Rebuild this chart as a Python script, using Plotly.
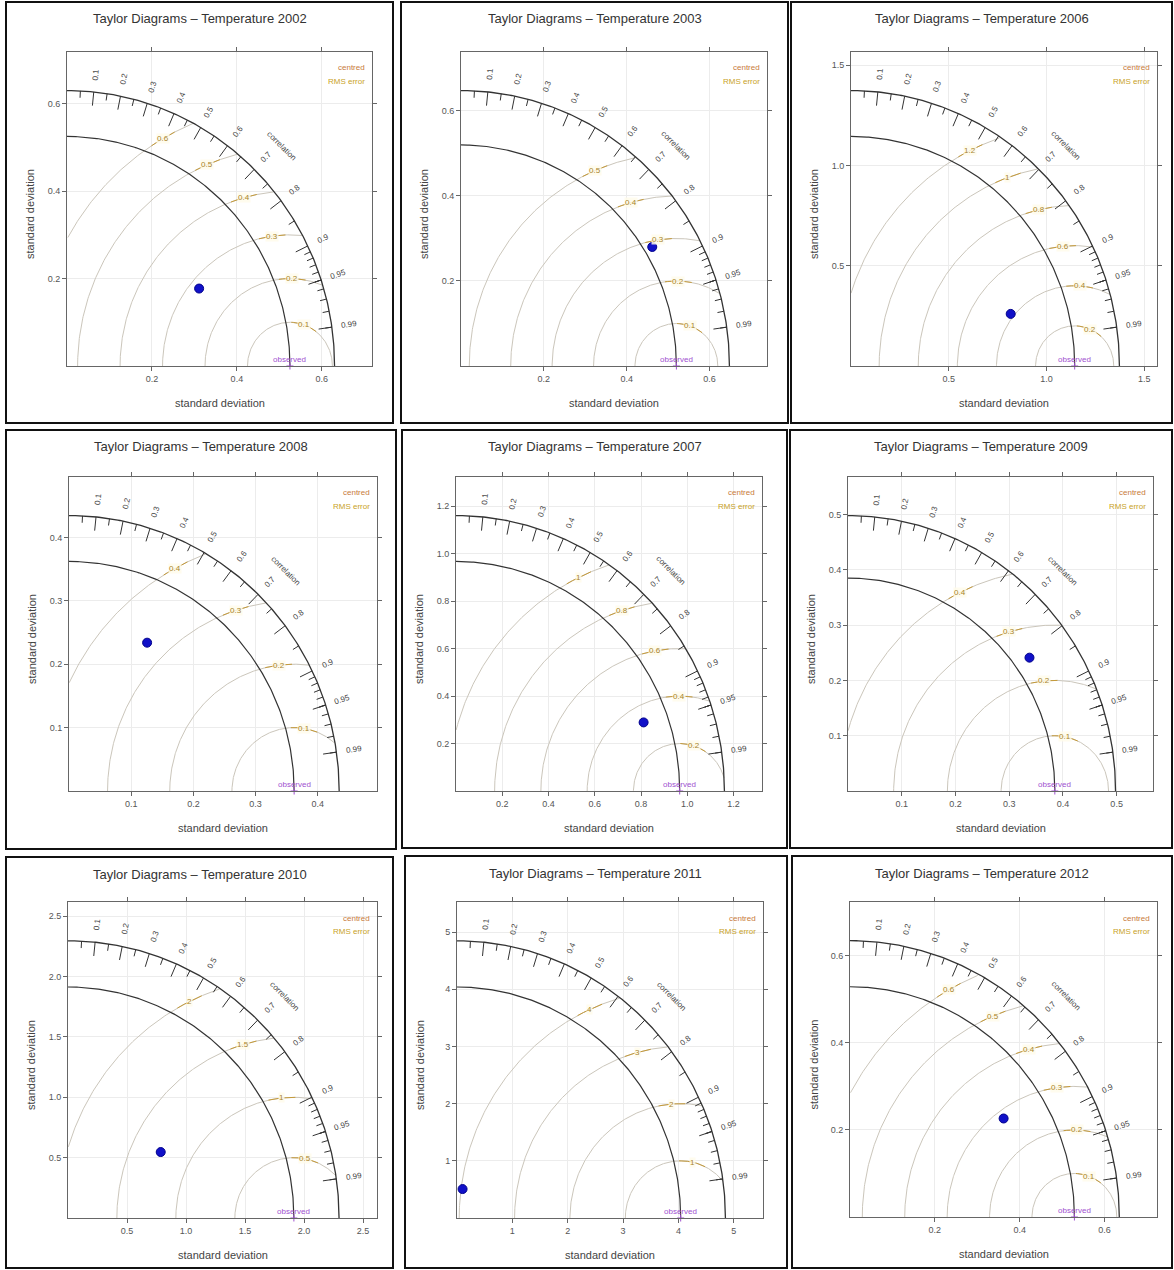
import numpy as np
import plotly.graph_objects as go

W, H = 1174, 1270

# ---------------- data ----------------
years = [2002, 2003, 2006, 2008, 2007, 2009, 2010, 2011, 2012]
obs_sd = [0.525, 0.520, 1.144, 0.362, 0.967, 0.385, 1.914, 4.04, 0.529]
model_sd = [0.358, 0.540, 0.857, 0.2655, 0.861, 0.415, 0.957, 0.516, 0.427]
model_cor = [0.869, 0.855, 0.953, 0.473, 0.942, 0.814, 0.821, 0.195, 0.848]
rms_step = [0.1, 0.1, 0.2, 0.1, 0.2, 0.1, 0.5, 1.0, 0.1]
tick_vals = [
    [0.2, 0.4, 0.6], [0.2, 0.4, 0.6], [0.5, 1.0, 1.5],
    [0.1, 0.2, 0.3, 0.4], [0.2, 0.4, 0.6, 0.8, 1.0, 1.2], [0.1, 0.2, 0.3, 0.4, 0.5],
    [0.5, 1.0, 1.5, 2.0, 2.5], [1, 2, 3, 4, 5], [0.2, 0.4, 0.6],
]
tick_text = [
    ["0.2", "0.4", "0.6"], ["0.2", "0.4", "0.6"], ["0.5", "1.0", "1.5"],
    ["0.1", "0.2", "0.3", "0.4"], ["0.2", "0.4", "0.6", "0.8", "1.0", "1.2"],
    ["0.1", "0.2", "0.3", "0.4", "0.5"],
    ["0.5", "1.0", "1.5", "2.0", "2.5"], ["1", "2", "3", "4", "5"], ["0.2", "0.4", "0.6"],
]
cor_labels = [0.1, 0.2, 0.3, 0.4, 0.5, 0.6, 0.7, 0.8, 0.9, 0.95, 0.99]

# ---------------- layout geometry (pixels) ----------------
frames = [  # left, right, top, bottom of plot frame
    (67, 372, 52, 366), (461, 767, 52, 366), (851, 1157, 52, 366),
    (69, 377, 477, 791), (456, 762, 477, 791), (848, 1153, 477, 791),
    (68, 377, 902, 1218), (457, 763, 902, 1218), (850, 1157, 902, 1217),
]
boxes = [
    (6, 2, 393, 423), (401, 2, 788, 423), (791, 2, 1172, 423),
    (6, 430, 396, 849), (402, 430, 787, 848), (790, 430, 1172, 848),
    (6, 857, 393, 1268), (405, 856, 787, 1268), (792, 856, 1172, 1268),
]

FONT = "Liberation Sans, Arial, sans-serif"
GOLD = "#c49a3a"
ARC_GREY = "#cbc6bb"

fig = go.Figure()
annotations = []
shapes = []

def px(x):
    return x / W

def py(y):
    return 1 - y / H

for i in range(9):
    sfx = "" if i == 0 else str(i + 1)
    xa, ya = "x" + sfx, "y" + sfx
    L, R, T, B = frames[i]
    ref = obs_sd[i]
    msd = model_sd[i]
    cor = model_cor[i]
    maxsd = 1.2 * max(ref, msd)
    rng = [0, 1.14 * maxsd]

    axis_common = dict(
        range=rng, showgrid=True, gridcolor="#ececec", gridwidth=1, zeroline=False,
        showline=True, linecolor="#666", linewidth=1, mirror="allticks",
        ticks="outside", ticklen=4, tickcolor="#666", tickwidth=1,
        tickfont=dict(family=FONT, size=9, color="#555"),
        tickvals=tick_vals[i], ticktext=tick_text[i], fixedrange=True,
    )
    fig.layout["xaxis" + sfx] = dict(domain=[px(L), px(R)], anchor=ya, **axis_common)
    fig.layout["yaxis" + sfx] = dict(domain=[py(B), py(T)], anchor=xa, **axis_common)

    # RMS arcs centred on the reference point
    nk = int(np.floor(1.15 * ref / rms_step[i] + 1e-9))
    lab_R = 1.08 * ref
    for k in range(1, nk + 1):
        r = k * rms_step[i]
        ph = np.linspace(0, np.pi, 400)
        ax_ = ref + r * np.cos(ph)
        ay_ = r * np.sin(ph)
        ok = (ax_ >= 0) & (np.hypot(ax_, ay_) <= maxsd)
        xs = np.where(ok, ax_, np.nan)
        ys = np.where(ok, ay_, np.nan)
        fig.add_trace(go.Scatter(x=xs, y=ys, xaxis=xa, yaxis=ya, mode="lines",
                                 line=dict(color=ARC_GREY, width=1), hoverinfo="skip",
                                 showlegend=False, connectgaps=False))
        lx = (lab_R ** 2 + ref ** 2 - r ** 2) / (2 * ref)
        if abs(lx) <= lab_R:
            ly = np.sqrt(lab_R ** 2 - lx ** 2)
            phl = np.arctan2(ly, lx - ref)
            dph = 0.05 * maxsd / r
            ps = np.linspace(phl - dph, phl + dph, 40)
            sx = ref + r * np.cos(ps)
            sy = r * np.sin(ps)
            ok2 = (sx >= 0) & (np.hypot(sx, sy) <= maxsd)
            fig.add_trace(go.Scatter(x=np.where(ok2, sx, np.nan), y=np.where(ok2, sy, np.nan),
                                     xaxis=xa, yaxis=ya, mode="lines",
                                     line=dict(color=GOLD, width=1), hoverinfo="skip",
                                     showlegend=False))
            txt = ("%g" % round(r, 2))
            annotations.append(dict(x=lx, y=ly, xref=xa, yref=ya, text=txt, showarrow=False,
                                    xanchor="center", yanchor="middle",
                                    font=dict(family=FONT, size=8, color="#a8842c"),
                                    bgcolor="rgba(255,252,235,0.85)", borderpad=0))

    # outer and reference arcs
    th = np.linspace(0, np.pi / 2, 200)
    for rad, wid in ((maxsd, 1.3), (ref, 1.2)):
        fig.add_trace(go.Scatter(x=rad * np.cos(th), y=rad * np.sin(th), xaxis=xa, yaxis=ya,
                                 mode="lines", line=dict(color="#333", width=wid),
                                 hoverinfo="skip", showlegend=False))

    # correlation ticks on outer arc
    tx, ty = [], []
    big = list(np.arange(0.1, 0.91, 0.1)) + [0.95, 0.99]
    med = list(np.arange(0.05, 0.96, 0.1))
    sml = list(np.arange(0.91, 0.995, 0.01))
    for vals, fr in ((big, 0.95), (med, 0.975), (sml, 0.975)):
        for c in vals:
            a = np.arccos(c)
            tx += [maxsd * np.cos(a), fr * maxsd * np.cos(a), None]
            ty += [maxsd * np.sin(a), fr * maxsd * np.sin(a), None]
    fig.add_trace(go.Scatter(x=tx, y=ty, xaxis=xa, yaxis=ya, mode="lines",
                             line=dict(color="#333", width=1), hoverinfo="skip",
                             showlegend=False))

    for c in cor_labels:
        a = np.arccos(c)
        annotations.append(dict(x=1.065 * maxsd * np.cos(a), y=1.065 * maxsd * np.sin(a),
                                xref=xa, yref=ya, text="%g" % c, showarrow=False,
                                xanchor="center", yanchor="middle",
                                textangle=-np.degrees(a),
                                font=dict(family=FONT, size=8, color="#444")))
    annotations.append(dict(x=0.8 * maxsd, y=0.8 * maxsd, xref=xa, yref=ya, text="correlation",
                            showarrow=False, textangle=45, xanchor="center", yanchor="middle",
                            font=dict(family=FONT, size=8, color="#444")))

    # observed reference point
    fig.add_trace(go.Scatter(x=[ref], y=[0], xaxis=xa, yaxis=ya, mode="markers",
                             marker=dict(color="#a050d0", size=5, symbol="cross-thin",
                                         line=dict(color="#a050d0", width=1)),
                             hoverinfo="skip", showlegend=False, cliponaxis=False))
    annotations.append(dict(x=ref, y=0.025 * maxsd, xref=xa, yref=ya, text="observed",
                            showarrow=False, xanchor="center", yanchor="middle",
                            font=dict(family=FONT, size=8, color="#a050d0")))

    # model point
    a = np.arccos(cor)
    fig.add_trace(go.Scatter(x=[msd * np.cos(a)], y=[msd * np.sin(a)], xaxis=xa, yaxis=ya,
                             mode="markers",
                             marker=dict(color="#1010c8", size=9,
                                         line=dict(color="#00008b", width=1)),
                             hoverinfo="skip", showlegend=False))

    # "centred RMS error" note
    annotations.append(dict(x=px(R - 5), y=py(T + 16), xref="paper", yref="paper",
                            text="centred", showarrow=False, xanchor="right", yanchor="middle",
                            font=dict(family=FONT, size=8, color="#c87a3a")))
    annotations.append(dict(x=px(R - 5), y=py(T + 29), xref="paper", yref="paper",
                            text="RMS error", showarrow=False, xanchor="right", yanchor="middle",
                            font=dict(family=FONT, size=8, color="#c9a227")))

    # titles
    bx0, by0, bx1, by1 = boxes[i]
    annotations.append(dict(x=px((bx0 + bx1) / 2), y=py(by0 + 17), xref="paper", yref="paper",
                            text="Taylor Diagrams \u2013 Temperature %d" % years[i],
                            showarrow=False, xanchor="center", yanchor="middle",
                            font=dict(family=FONT, size=13, color="#333")))
    annotations.append(dict(x=px((L + R) / 2), y=py(B + 37), xref="paper", yref="paper",
                            text="standard deviation", showarrow=False,
                            xanchor="center", yanchor="middle",
                            font=dict(family=FONT, size=11, color="#444")))
    annotations.append(dict(x=px(L - 37), y=py((T + B) / 2 + 5), xref="paper", yref="paper",
                            text="standard deviation", showarrow=False, textangle=-90,
                            xanchor="center", yanchor="middle",
                            font=dict(family=FONT, size=11, color="#444")))

    shapes.append(dict(type="rect", xref="paper", yref="paper",
                       x0=px(bx0), x1=px(bx1), y0=py(by1), y1=py(by0),
                       line=dict(color="#111", width=2), fillcolor="rgba(0,0,0,0)"))

fig.update_layout(
    width=W, height=H, margin=dict(l=0, r=0, t=0, b=0),
    paper_bgcolor="white", plot_bgcolor="white",
    annotations=annotations, shapes=shapes, showlegend=False,
)

fig.write_html("out.html", config={"displayModeBar": False},
               post_script="document.body.style.margin='0px';document.body.style.overflow='hidden';")
